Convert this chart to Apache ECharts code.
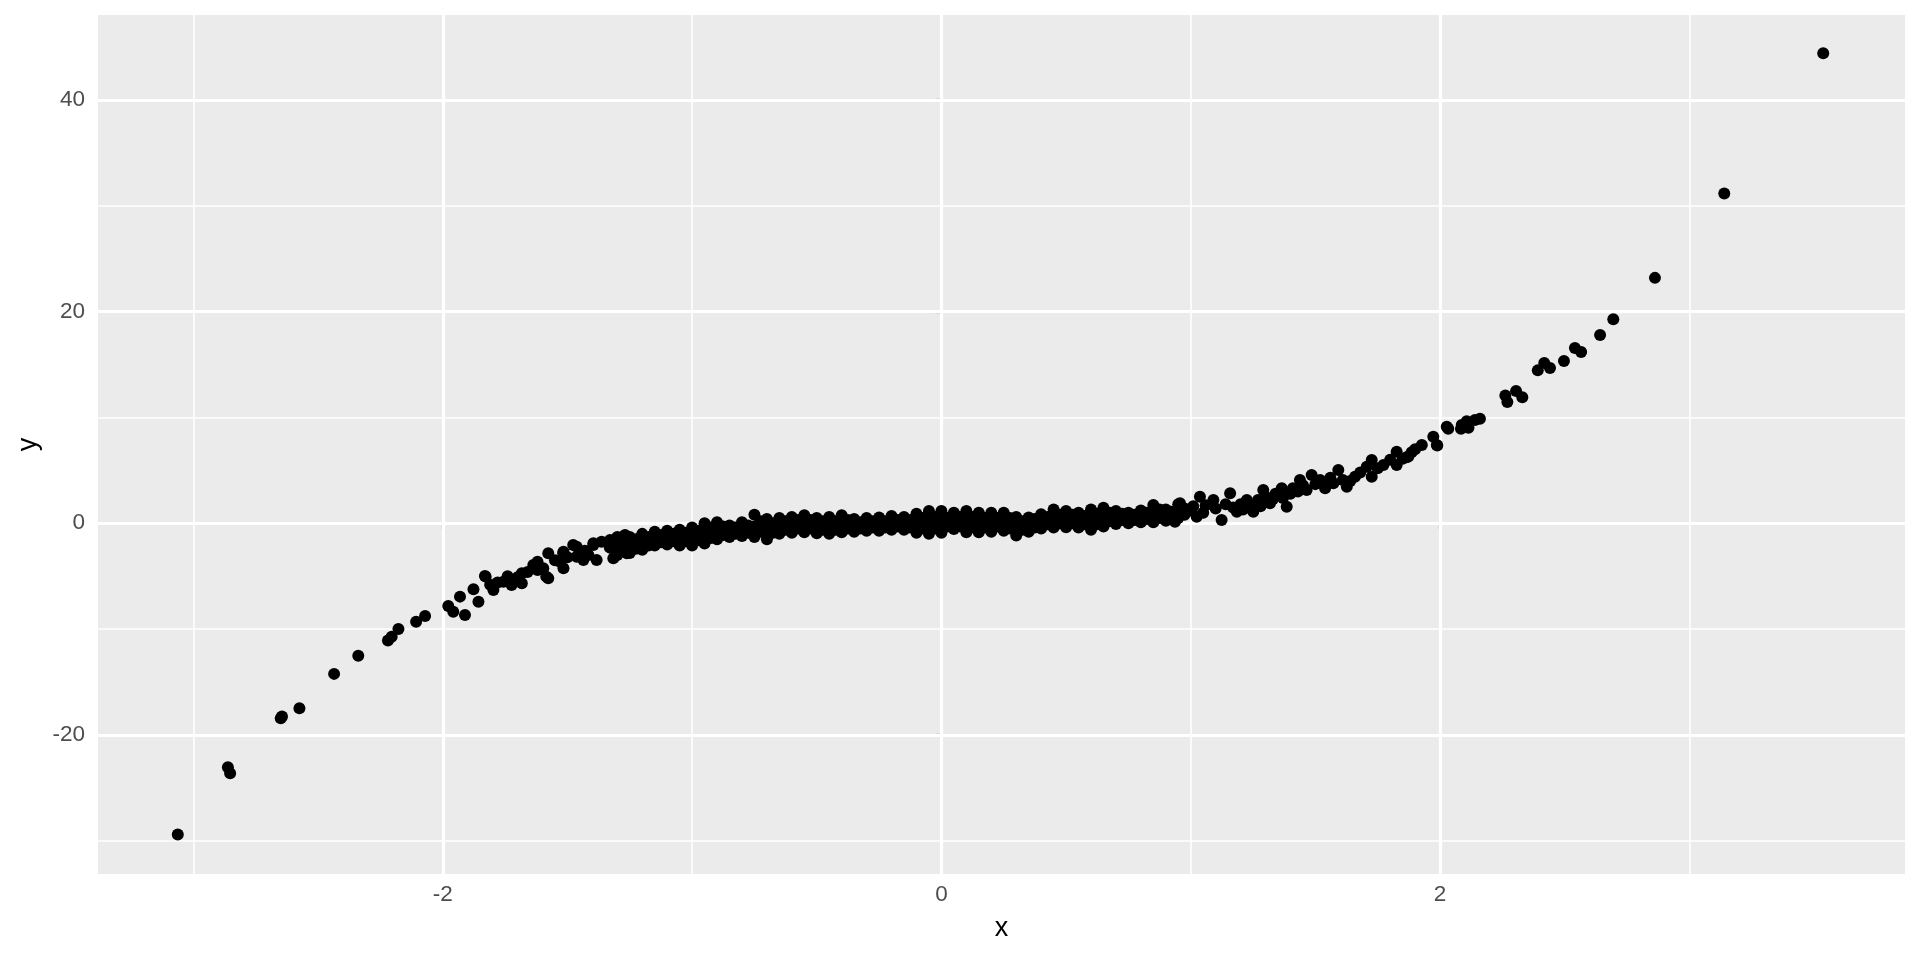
<!DOCTYPE html>
<html>
<head>
<meta charset="utf-8">
<script src="https://cdn.jsdelivr.net/npm/echarts@6/dist/echarts.min.js"></script>
<style>
html,body{margin:0;padding:0;background:#fff;}
#chart{width:1920px;height:960px;}
</style>
</head>
<body>
<div id="chart"></div>
<script>
// ---- data ----
const xTickValues = [-2, 0, 2];
const xMinorValues = [-3, -1, 1, 3];
const yTickValues = [-20, 0, 20, 40];
const yMinorValues = [-30, -10, 10, 30];
const xRange = [-3.383, 3.865];
const yRange = [-33.14, 48.03];

const leftTailPoints = [
  [-3.063,-29.40],[-2.862,-23.06],[-2.853,-23.63],[-2.645,-18.26],[-2.650,-18.42],[-2.575,-17.48],
  [-2.436,-14.23],[-2.339,-12.51],[-2.220,-11.07],[-2.205,-10.72],[-2.178,-10.0],[-2.107,-9.3],
  [-2.071,-8.76],[-1.978,-7.81],[-1.958,-8.35],[-1.931,-6.93],[-1.911,-8.66],[-1.877,-6.24],
  [-1.857,-7.41],[-1.831,-4.98],[-1.797,-6.30],[-1.757,-5.52],[-1.724,-5.83],[-1.683,-4.72],
  [-1.683,-5.67],[-1.637,-3.94],[-1.597,-4.25],[-1.577,-2.84],[-1.577,-5.20],[-1.530,-3.63],
  [-1.517,-2.84],[-1.477,-2.05],[-1.463,-3.16],[-1.416,-3.0],[-1.396,-2.05],[-1.363,-1.74],
  [-1.316,-3.31],[-1.302,-1.42],[-1.269,-1.1],
  [-1.62,-3.63],[-1.62,-4.41],[-1.516,-2.68],[-1.516,-4.25],[-1.463,-2.21],[-1.436,-3.47],
  [-1.396,-1.89],[-1.383,-3.47],[-1.329,-1.58],[-1.276,-1.26],[-1.262,-2.84],[-1.33,-2.3],
  [-1.29,-2.0],[-1.43,-2.6],[-1.50,-3.2],[-1.55,-3.5],[-1.78,-5.6],[-1.74,-5.0],[-1.81,-5.8],
  [-1.70,-5.1],[-1.66,-4.6],[-1.828,-5.04],[-1.585,-5.04]
];

const bandPoints = [
  [-1.30,-1.3],[-1.30,-2.2],[-1.30,-3.0],[-1.275,-1.6],[-1.275,-2.6],
  [-1.25,-1.3],[-1.25,-2.0],[-1.25,-2.8],[-1.225,-1.5],[-1.225,-2.4],
  [-1.20,-1.0],[-1.20,-1.8],[-1.20,-2.5],[-1.175,-1.3],[-1.175,-2.1],
  [-1.15,-0.8],[-1.15,-1.5],[-1.15,-2.1],[-1.125,-1.1],[-1.125,-1.8],
  [-1.10,-0.7],[-1.10,-1.4],[-1.10,-2.0],[-1.075,-1.0],[-1.075,-1.7],
  [-1.05,-0.6],[-1.05,-1.3],[-1.05,-2.1],[-1.025,-0.9],[-1.025,-1.7],
  [-1.00,-0.4],[-1.00,-1.2],[-1.00,-2.1],[-0.975,-0.7],[-0.975,-1.6],
  [-0.95,0.0],[-0.95,-0.9],[-0.95,-1.9],[-0.925,-0.4],[-0.925,-1.4],
  [-0.90,0.1],[-0.90,-0.7],[-0.90,-1.5],[-0.875,-0.3],[-0.875,-1.1],
  [-0.85,-0.2],[-0.85,-0.7],[-0.85,-1.3],[-0.825,-0.4],[-0.825,-1.0],
  [-0.80,0.1],[-0.80,-0.5],[-0.80,-1.2],[-0.775,-0.2],[-0.775,-0.9],
  [-0.75,0.8],[-0.75,-0.3],[-0.75,-1.3],[-0.725,0.2],[-0.725,-0.8],
  [-0.70,0.4],[-0.70,-0.5],[-0.70,-1.5],[-0.675,0.0],[-0.675,-0.9],
  [-0.65,0.5],[-0.65,-0.2],[-0.65,-1.0],[-0.625,0.2],[-0.625,-0.6],
  [-0.60,0.6],[-0.60,-0.1],[-0.60,-0.9],[-0.575,0.3],[-0.575,-0.5],
  [-0.55,0.75],[-0.55,-0.1],[-0.55,-0.85],[-0.525,0.3],[-0.525,-0.5],
  [-0.50,0.5],[-0.50,-0.2],[-0.50,-0.95],[-0.475,0.2],[-0.475,-0.6],
  [-0.45,0.6],[-0.45,-0.2],[-0.45,-1.0],[-0.425,0.2],[-0.425,-0.6],
  [-0.40,0.75],[-0.40,-0.05],[-0.40,-0.85],[-0.375,0.3],[-0.375,-0.5],
  [-0.35,0.4],[-0.35,-0.2],[-0.35,-0.8],[-0.325,0.1],[-0.325,-0.5],
  [-0.30,0.5],[-0.30,-0.1],[-0.30,-0.7],[-0.275,0.2],[-0.275,-0.4],
  [-0.25,0.55],[-0.25,-0.1],[-0.25,-0.7],[-0.225,0.2],[-0.225,-0.4],
  [-0.20,0.7],[-0.20,0.0],[-0.20,-0.6],[-0.175,0.3],[-0.175,-0.3],
  [-0.15,0.6],[-0.15,0.0],[-0.15,-0.6],[-0.125,0.3],[-0.125,-0.4],
  [-0.10,0.9],[-0.10,0.0],[-0.10,-0.9],[-0.075,0.5],[-0.075,-0.5],
  [-0.05,1.16],[-0.05,0.1],[-0.05,-1.0],[-0.025,0.6],[-0.025,-0.5],
  [0.00,1.16],[0.00,0.1],[0.00,-0.9],[0.025,0.5],[0.025,-0.3],
  [0.05,1.0],[0.05,0.2],[0.05,-0.55],[0.075,0.6],[0.075,-0.3],
  [0.10,1.16],[0.10,0.1],[0.10,-0.85],[0.125,0.6],[0.125,-0.4],
  [0.15,1.0],[0.15,0.1],[0.15,-0.85],[0.175,0.5],[0.175,-0.4],
  [0.20,1.0],[0.20,0.1],[0.20,-0.8],[0.225,0.5],[0.225,-0.3],
  [0.25,1.0],[0.25,0.2],[0.25,-0.7],[0.275,0.5],[0.275,-0.5],
  [0.30,0.6],[0.30,-0.2],[0.30,-1.15],[0.325,0.2],[0.325,-0.6],
  [0.35,0.55],[0.35,0.0],[0.35,-0.8],[0.375,0.4],[0.375,-0.4],
  [0.40,0.85],[0.40,0.2],[0.40,-0.5],[0.425,0.6],[0.425,-0.1],
  [0.45,1.3],[0.45,0.4],[0.45,-0.4],[0.475,0.8],[0.475,0.0],
  [0.50,1.16],[0.50,0.4],[0.50,-0.38],[0.525,0.8],[0.525,0.0],
  [0.55,1.0],[0.55,0.3],[0.55,-0.4],[0.575,0.7],[0.575,-0.1],
  [0.60,1.3],[0.60,0.4],[0.60,-0.6],[0.625,0.9],[0.625,-0.1],
  [0.65,1.48],[0.65,0.6],[0.65,-0.3],[0.675,1.0],[0.675,0.2],
  [0.70,1.16],[0.70,0.6],[0.70,-0.07],[0.725,0.9],[0.725,0.3],
  [0.75,1.0],[0.75,0.5],[0.75,0.0],[0.775,0.8],[0.775,0.3],
  [0.80,1.2],[0.80,0.6],[0.80,0.09],[0.825,1.0],[0.825,0.4],
  [0.85,1.72],[0.85,0.9],[0.85,0.1],[0.875,1.3],[0.875,0.5],
  [0.90,1.3],[0.90,0.8],[0.90,0.25],[0.925,1.1],[0.925,0.5],
  [0.95,1.79],[0.95,1.1],[0.95,0.5],[0.975,1.4],[0.975,0.8]
];

const rightBandPoints = [
  [0.937,0.15],[0.957,1.89],[1.037,2.51],[1.024,0.62],[1.091,2.20],[1.124,0.31],[1.158,2.83],
  [1.185,1.10],[1.225,2.20],[1.251,1.10],[1.291,3.15],[1.318,1.89],[1.365,3.31],[1.385,1.57],
  [1.438,4.09],[1.485,4.56],[1.465,3.15],[1.519,4.09],[1.539,3.31],[1.592,5.04],[1.572,3.78],
  [1.626,3.46],[1.659,4.40],[1.706,5.35],[1.726,5.98],[1.726,4.40],[1.773,5.51],[1.826,6.77],
  [1.826,5.51],[1.873,6.30],[1.927,7.40],[1.973,8.18],[1.987,7.40],[2.027,9.13],[2.087,9.29],
  [1.00,1.2],[1.01,1.6],[1.05,1.0],[1.06,1.7],[1.10,1.4],[1.14,1.8],[1.17,1.5],[1.20,1.8],
  [1.21,1.3],[1.24,1.6],[1.27,2.2],[1.28,1.6],[1.30,2.5],[1.33,2.3],[1.34,2.8],[1.37,2.4],
  [1.40,2.8],[1.41,3.3],[1.43,3.0],[1.45,3.6],[1.50,3.7],[1.53,3.9],[1.56,4.3],[1.61,4.1],
  [1.64,4.0],[1.68,4.8],[1.75,5.2],[1.80,6.0],[1.85,6.1],[1.90,7.0]
];

const rightTailPoints = [
  [3.537,44.42],[3.140,31.17],[2.862,23.19],[2.695,19.27],[2.642,17.79],[2.566,16.18],
  [2.541,16.56],[2.497,15.33],[2.441,14.67],[2.418,15.14],[2.392,14.45],[2.330,11.92],
  [2.305,12.49],[2.270,11.45],[2.262,12.08],[2.160,9.87],[2.140,9.75],[2.114,9.02],
  [2.107,9.65],[2.084,8.93],[2.033,8.93],[1.989,7.35],[1.886,6.72],[1.866,6.25]
];

// ---- chart ----
const allPoints = leftTailPoints.concat(bandPoints, rightBandPoints, rightTailPoints);
const FONT = '"Liberation Sans", Arial, sans-serif';

function gridLines() {
  const d = [];
  xMinorValues.forEach(v => d.push({xAxis: v, lineStyle: {color: '#FFFFFF', width: 1.6, type: 'solid'}}));
  yMinorValues.forEach(v => d.push({yAxis: v, lineStyle: {color: '#FFFFFF', width: 1.6, type: 'solid'}}));
  xTickValues.forEach(v => d.push({xAxis: v, lineStyle: {color: '#FFFFFF', width: 3.2, type: 'solid'}}));
  yTickValues.forEach(v => d.push({yAxis: v, lineStyle: {color: '#FFFFFF', width: 3.2, type: 'solid'}}));
  return d;
}

const chart = echarts.init(document.getElementById('chart'), null, {renderer: 'canvas'});
chart.setOption({
  animation: false,
  backgroundColor: '#FFFFFF',
  grid: {
    left: 98, right: 15, top: 15, bottom: 86,
    show: true, backgroundColor: '#EBEBEB', borderWidth: 0
  },
  xAxis: {
    type: 'value',
    min: xRange[0], max: xRange[1],
    name: 'x', nameLocation: 'middle', nameGap: 41,
    nameTextStyle: {color: '#000000', fontSize: 27, fontFamily: FONT},
    axisLine: {show: false},
    splitLine: {show: false},
    axisTick: {show: true, customValues: xTickValues, length: 6, lineStyle: {color: '#333333', width: 2.2}},
    axisLabel: {customValues: xTickValues, color: '#4D4D4D', fontSize: 22.5, fontFamily: FONT, margin: 9}
  },
  yAxis: {
    type: 'value',
    min: yRange[0], max: yRange[1],
    name: 'y', nameLocation: 'middle', nameGap: 56, nameRotate: 90,
    nameTextStyle: {color: '#000000', fontSize: 27, fontFamily: FONT},
    axisLine: {show: false},
    splitLine: {show: false},
    axisTick: {show: true, customValues: yTickValues, length: 6, lineStyle: {color: '#333333', width: 2.2}},
    axisLabel: {customValues: yTickValues, color: '#4D4D4D', fontSize: 22.5, fontFamily: FONT, margin: 13}
  },
  series: [
    {
      type: 'scatter', data: [], z: 1, silent: true,
      markLine: {z: 1, zlevel: 0, silent: true, symbol: ['none', 'none'], label: {show: false}, data: gridLines(), animation: false}
    },
    {
      type: 'scatter', data: allPoints, z: 10,
      symbol: 'circle', symbolSize: 12,
      itemStyle: {color: '#000000', opacity: 1}
    }
  ]
});
</script>
</body>
</html>
